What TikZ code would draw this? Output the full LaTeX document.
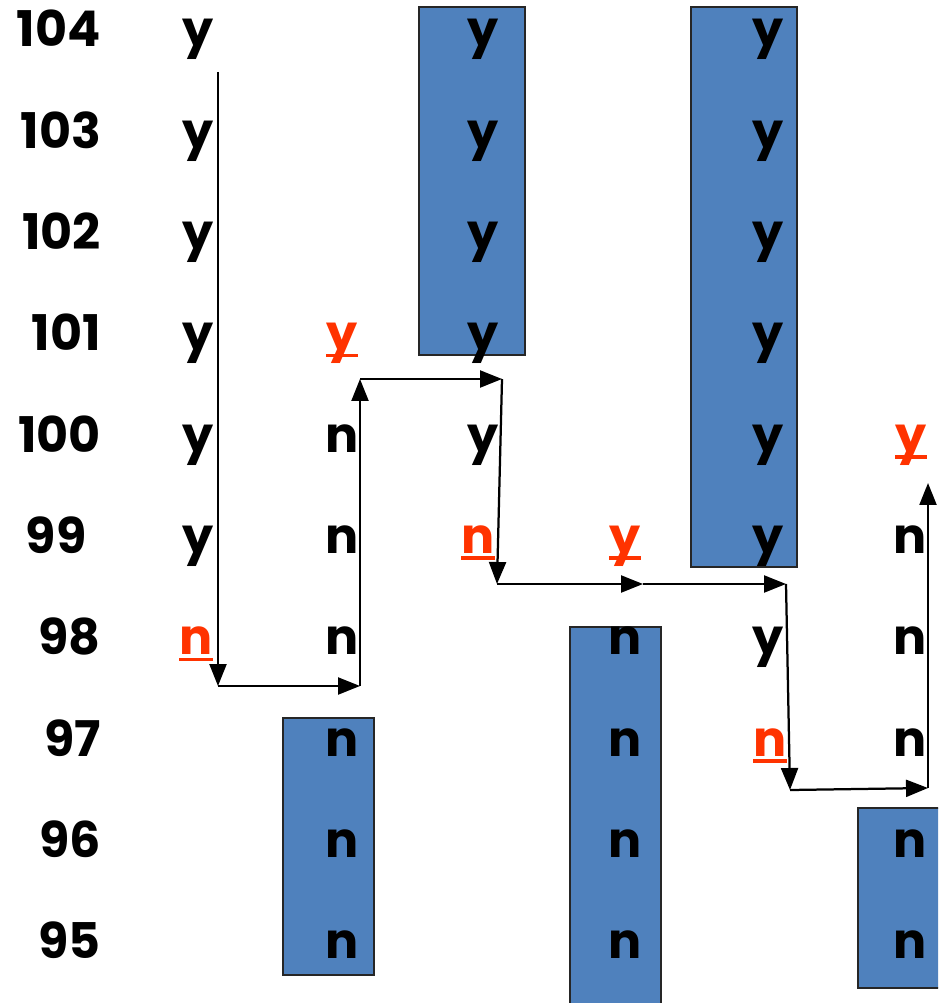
\documentclass[tikz,border=0pt]{standalone}
\usepackage{fontspec}
\setmainfont{Poppins}
\usetikzlibrary{arrows.meta}
\definecolor{barblue}{HTML}{4F81BD}
\definecolor{pickred}{HTML}{FF3300}
\newcommand{\markit}[1]{\setbox0=\hbox{#1}\rlap{\rule[-0.13em]{\wd0}{0.07em}}\box0}

\begin{document}
\begin{tikzpicture}[x=0.02cm,y=-0.02cm,line width=0.45mm,
  lbl/.style={anchor=base,inner sep=0pt,font=\fontsize{28}{30}\selectfont\bfseries},
  pick/.style={lbl,text=pickred},
  bar/.style={fill=barblue,draw=black!85,line width=0.3mm},
  arr/.style={-{Triangle[length=0.44cm,width=0.34cm]}}]
\useasboundingbox (0,0) rectangle (938,1003);
\clip (0,0) rectangle (938,1003);

% blue runs
\draw[bar] (283,718) rectangle (374,975);
\draw[bar] (419,7) rectangle (525,355);
\draw[bar] (570,627) rectangle (661,1015);
\draw[bar] (691,7) rectangle (797,567);
\draw[bar] (858,808) rectangle (950,988);

% row numbers
\foreach \r in {104,...,100} \node[lbl,anchor=base east] (r\r) at (102,{47+(104-\r)*101.3}) {\r};
\node[lbl] (r99) at (56,553.5) {99};
\foreach \r in {98,...,95} \node[lbl,anchor=base east] (r\r) at (102,{47+(104-\r)*101.3}) {\r};

% columns
\foreach \r in {104,...,99} \node[lbl] (a\r) at (198,{47+(104-\r)*101.3}) {y};
\node[pick] (a98) at (196,654.8) {\markit{n}};

\node[pick] (b101) at (342,350.9) {\markit{y}};
\foreach \r in {100,...,95} \node[lbl] (b\r) at (342,{47+(104-\r)*101.3}) {n};

\foreach \r in {104,...,100} \node[lbl] (c\r) at (483,{47+(104-\r)*101.3}) {y};
\node[pick] (c99) at (478,553.5) {\markit{n}};

\node[pick] (d99) at (625,553.5) {\markit{y}};
\foreach \r in {98,...,95} \node[lbl] (d\r) at (625,{47+(104-\r)*101.3}) {n};

\foreach \r in {104,...,98} \node[lbl] (e\r) at (768,{47+(104-\r)*101.3}) {y};
\node[pick] (e97) at (770,756.1) {\markit{n}};

\node[pick] (f100) at (911,452.2) {\markit{y}};
\foreach \r in {99,...,95} \node[lbl] (f\r) at (910,{47+(104-\r)*101.3}) {n};

% the walk
\coordinate (p1) at (218,72);
\coordinate (p2) at (218,686);
\coordinate (p3) at (360,686);
\coordinate (p4) at (360,379);
\coordinate (p5) at (502,379);
\coordinate (p6) at (497,584);
\coordinate (p7) at (643,584);
\coordinate (p8) at (786,584);
\coordinate (p9) at (790,790);
\coordinate (p10) at (928,788);
\coordinate (p11) at (928,483);
\draw[arr] (p1) -- (p2);
\draw[arr] (p2) -- (p3);
\draw[arr] (p3) -- (p4);
\draw[arr] (p4) -- (p5);
\draw[arr] (p5) -- (p6);
\draw[arr] (p6) -- (p7);
\draw[arr] (p7) -- (p8);
\draw[arr] (p8) -- (p9);
\draw[arr] (p9) -- (p10);
\draw[arr] (p10) -- (p11);
\end{tikzpicture}
\end{document}
